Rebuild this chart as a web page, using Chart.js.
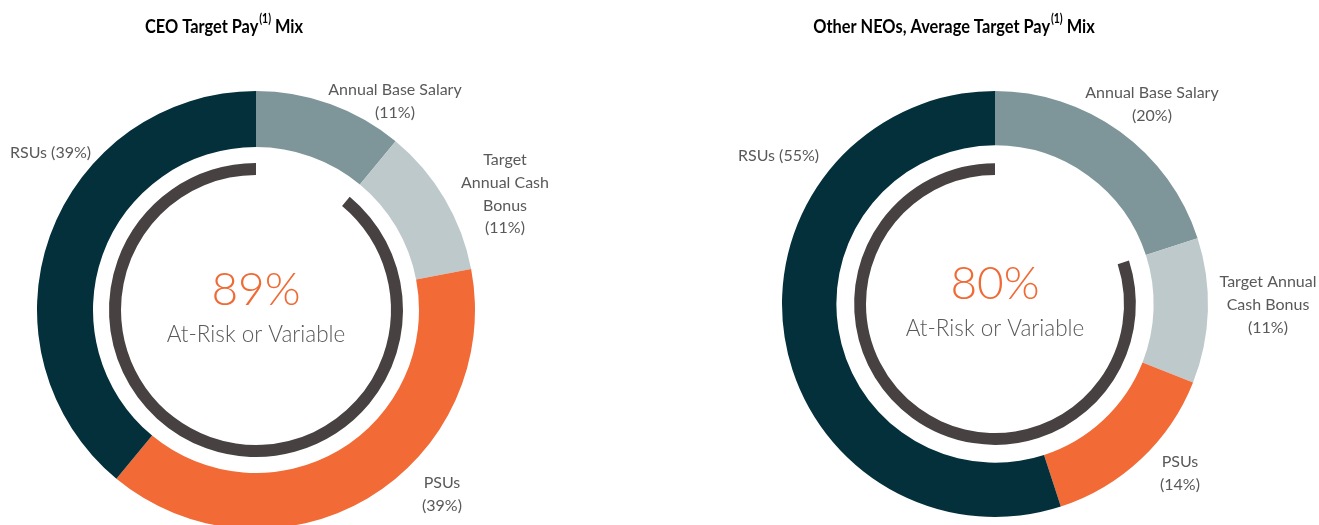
<!DOCTYPE html>
<html>
<head>
<meta charset="utf-8">
<script src="https://cdn.jsdelivr.net/npm/chart.js@4/dist/chart.umd.min.js"></script>
<style>
    html, body {
        margin: 0;
        padding: 0;
        background: #ffffff;
        width: 1319px;
        height: 525px;
        overflow: hidden;
    }
    canvas {
        position: absolute;
        top: 0;
    }
    #ceo-chart { left: 0; }
    #neo-chart { left: 659px; }
</style>
</head>
<body>
<canvas id="ceo-chart" width="659" height="540"></canvas>
<canvas id="neo-chart" width="660" height="540"></canvas>

<script>
/* ===========================
   DATA
=========================== */

const categories = [
    "Annual Base Salary",
    "Target Annual Cash Bonus",
    "PSUs",
    "RSUs"
];

const ceoValues = [11, 11, 39, 39];
const neoValues = [20, 11, 14, 55];

const ceoAtRisk = 89;
const neoAtRisk = 80;

const ceoTitle = ["CEO Target Pay", "(1)", " Mix"];
const neoTitle = ["Other NEOs, Average Target Pay", "(1)", " Mix"];

const centerCaption = "At-Risk or Variable";

/* ===========================
   STYLE
=========================== */

const sliceColors = ["#7e969a", "#bec9cc", "#f26a35", "#04303c"];
const arcColor = "#474141";
const orange = "#f06a35";
const textGrey = "#595959";
const FONT = "Lato, 'Open Sans', sans-serif";

/* label layout (canvas coords), text built from categories + values */
const ceoLabels = [
    { idx: 0, lines: ["Annual Base Salary"], x: 395, y: 90, align: "center" },
    { idx: 1, lines: ["Target", "Annual Cash", "Bonus"], x: 505, y: 160, align: "center" },
    { idx: 2, lines: ["PSUs"], x: 442, y: 483, align: "center" },
    { idx: 3, lines: ["RSUs"], x: 10, y: 153, align: "left", inline: true }
];

const neoLabels = [
    { idx: 0, lines: ["Annual Base Salary"], x: 493, y: 93, align: "center" },
    { idx: 1, lines: ["Target Annual", "Cash Bonus"], x: 609, y: 282, align: "center" },
    { idx: 2, lines: ["PSUs"], x: 521, y: 462, align: "center" },
    { idx: 3, lines: ["RSUs"], x: 79, y: 156, align: "left", inline: true }
];

/* ===========================
   TEXT PLUGIN
=========================== */

const textPlugin = {
    id: "textPlugin",
    afterDraw(chart, args, opts) {
        const ctx = chart.ctx;
        const values = chart.data.datasets[0].data;
        const arc = chart.getDatasetMeta(0).data[0];
        ctx.save();

        // title with superscript (narrowed, calibri-like)
        const big = "bold 19.5px " + FONT;
        const small = "bold 12.5px " + FONT;
        const sx = 0.84;
        ctx.fillStyle = "#000000";
        ctx.textBaseline = "middle";
        const [t1, sup, t2] = opts.title;
        ctx.font = big;
        const w1 = ctx.measureText(t1).width;
        const w3 = ctx.measureText(t2).width;
        ctx.font = small;
        const w2 = ctx.measureText(sup).width;
        ctx.save();
        ctx.translate(opts.titleX, 0);
        ctx.scale(sx, 1);
        let x = -(w1 + w2 + w3 + 1) / 2;
        ctx.textAlign = "left";
        ctx.font = big;
        ctx.fillText(t1, x, 27);
        ctx.font = small;
        ctx.fillText(sup, x + w1 + 1, 19);
        ctx.font = big;
        ctx.fillText(t2, x + w1 + w2 + 1, 27);
        ctx.restore();

        // center text
        ctx.textAlign = "center";
        ctx.fillStyle = orange;
        ctx.font = "300 46px " + FONT;
        ctx.fillText(opts.atRisk + "%", arc.x, arc.y - 20);
        ctx.fillStyle = textGrey;
        ctx.font = "300 22.5px " + FONT;
        ctx.fillText(centerCaption, arc.x, arc.y + 25);

        // slice labels
        ctx.font = "16px " + FONT;
        opts.labels.forEach(lab => {
            const pct = "(" + values[lab.idx] + "%)";
            const lines = lab.inline
                ? [lab.lines.join(" ") + " " + pct]
                : lab.lines.concat([pct]);
            ctx.textAlign = lab.align;
            lines.forEach((line, i) => {
                ctx.fillText(line, lab.x, lab.y + i * 22.7);
            });
        });

        ctx.restore();
    }
};

/* ===========================
   CHART BUILDER
=========================== */

function buildChart(id, values, atRisk, title, titleX, labels, padding, weights, cutout) {
    return new Chart(document.getElementById(id), {
        type: "doughnut",
        data: {
            labels: categories,
            datasets: [
                {
                    data: values,
                    backgroundColor: sliceColors,
                    weight: weights[0]
                },
                {
                    data: [100],
                    backgroundColor: ["rgba(0,0,0,0)"],
                    weight: weights[1]
                },
                {
                    data: [100 - atRisk, atRisk],
                    backgroundColor: ["rgba(0,0,0,0)", arcColor],
                    weight: weights[2]
                }
            ]
        },
        options: {
            responsive: false,
            animation: false,
            cutout: cutout,
            borderWidth: 0,
            hoverOffset: 0,
            layout: { padding: padding },
            elements: {
                arc: { borderWidth: 0, offset: 0, hoverOffset: 0 }
            },
            plugins: {
                legend: { display: false },
                tooltip: { enabled: false },
                textPlugin: {
                    title: title,
                    titleX: titleX,
                    atRisk: atRisk,
                    labels: labels
                }
            }
        },
        plugins: [textPlugin]
    });
}

buildChart(
    "ceo-chart", ceoValues, ceoAtRisk, ceoTitle, 224, ceoLabels,
    { left: 37, right: 184, top: 91, bottom: 11 },
    [56, 16, 12], 135
);

buildChart(
    "neo-chart", neoValues, neoAtRisk, neoTitle, 295, neoLabels,
    { left: 123, right: 111, top: 90, bottom: 22 },
    [55, 18, 12], 129
);
</script>
</body>
</html>
